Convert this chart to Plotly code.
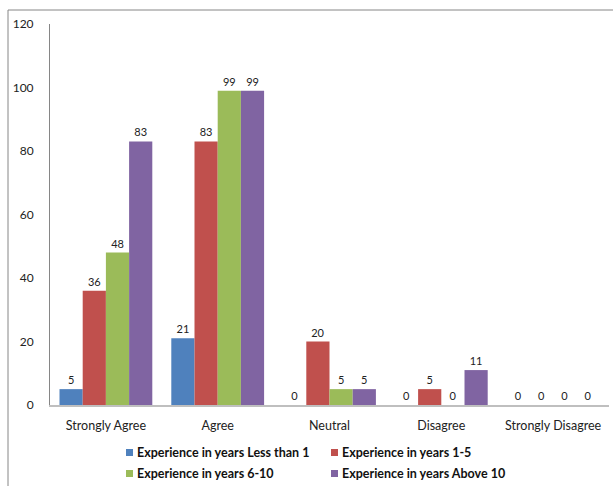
import plotly.graph_objects as go

categories = ["Strongly Agree", "Agree", "Neutral", "Disagree", "Strongly Disagree"]
series_names = [
    "Experience in years Less than 1",
    "Experience in years 1-5",
    "Experience in years 6-10",
    "Experience in years Above 10",
]
less_than_1 = [5, 21, 0, 0, 0]
years_1_5 = [36, 83, 20, 5, 0]
years_6_10 = [48, 99, 5, 0, 0]
above_10 = [83, 99, 5, 11, 0]
y_ticks = [0, 20, 40, 60, 80, 100, 120]

colors = ["#4F81BD", "#C0504D", "#9BBB59", "#8064A2"]
values = [less_than_1, years_1_5, years_6_10, above_10]

FONT = "Lato"
W, H = 613, 486
ML, MR, MT, MB = 50, 4, 24, 81
PW, PH = W - ML - MR, H - MT - MB


def px_x(px):
    return (px - ML) / PW


def px_y(py):
    return 1 - (py - MT) / PH


fig = go.Figure()
for name, vals, col in zip(series_names, values, colors):
    fig.add_trace(go.Bar(
        x=categories, y=vals, name=name,
        marker=dict(color=col, line=dict(width=0)),
        text=vals, textposition="outside", cliponaxis=False,
        textfont=dict(family=FONT, size=11, color="#222222"),
        showlegend=False,
    ))

# legend: two columns, two rows, small square keys with bold labels
legend_cols = [126, 331]
legend_rows = [452, 473]
for k, (name, col) in enumerate(zip(series_names, colors)):
    cx = legend_cols[k % 2]
    cy = legend_rows[k // 2]
    fig.add_shape(type="rect", xref="paper", yref="paper",
                  x0=px_x(cx), x1=px_x(cx + 7), y0=px_y(cy + 4), y1=px_y(cy - 3),
                  fillcolor=col, line=dict(width=0))
    fig.add_annotation(x=px_x(cx + 9), y=px_y(cy), xref="paper", yref="paper",
                       xanchor="left", yanchor="middle", text="<b>%s</b>" % name,
                       showarrow=False,
                       font=dict(family=FONT, size=12.5, color="#111111"))

fig.update_layout(
    width=W, height=H,
    margin=dict(l=ML, r=MR, t=MT, b=MB, autoexpand=False),
    plot_bgcolor="white", paper_bgcolor="white",
    barmode="group", bargap=0.17, bargroupgap=0,
    font=dict(family=FONT, size=11, color="#222222"),
    xaxis=dict(type="category", categoryorder="array", categoryarray=categories,
               ticks="", ticklabelstandoff=8,
               tickfont=dict(family=FONT, size=12.5, color="#222222"),
               showgrid=False, zeroline=False, showline=True,
               linecolor="#BFBFBF", linewidth=2),
    yaxis=dict(range=[0, 120], tickmode="array", tickvals=y_ticks,
               showgrid=False, zeroline=False, showline=True,
               linecolor="#868686", linewidth=1, ticks="",
               ticklabelstandoff=13,
               tickfont=dict(family=FONT, size=12, color="#222222")),
    showlegend=False,
)

# outer chart frame
fig.add_shape(type="rect", xref="paper", yref="paper",
              x0=px_x(8), x1=1.2, y0=-0.5, y1=px_y(10),
              line=dict(color="#868686", width=1), fillcolor="rgba(0,0,0,0)",
              layer="below")

fig.write_html("out.html")
